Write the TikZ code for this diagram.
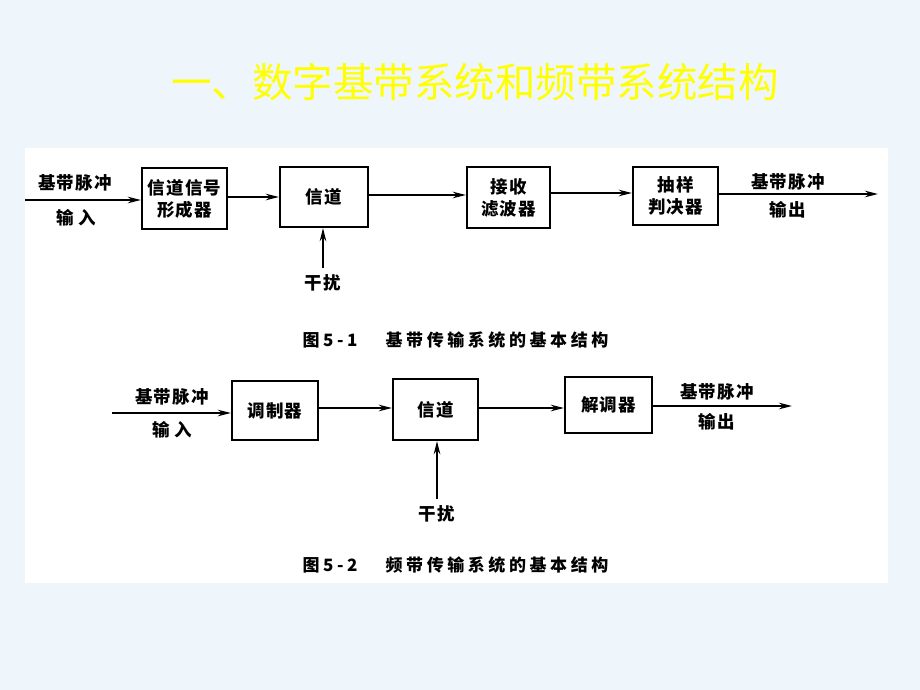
\documentclass[tikz,border=0pt]{standalone}
\usepackage{fontspec}
\newfontfamily\cjk{Noto Sans CJK SC}
\usetikzlibrary{arrows.meta}
\definecolor{slidebg}{RGB}{238,246,252}
\definecolor{titleyellow}{RGB}{255,255,0}
\tikzset{
  blk/.style={draw=black, line width=2.3pt, rectangle, inner sep=0pt, align=center,
    font=\cjk\bfseries\fontsize{17.5}{22}\selectfont\addfontfeature{LetterSpace=6}},
  lbl/.style={inner sep=0pt, align=center,
    font=\cjk\bfseries\fontsize{17.5}{20}\selectfont\addfontfeature{LetterSpace=6}},
  captxt/.style={inner sep=0pt, font=\cjk\bfseries\fontsize{17}{20}\selectfont\addfontfeature{LetterSpace=21}},
  arr/.style={line width=2pt, -{Stealth[length=13pt,width=6.5pt]}}
}
\begin{document}
\begin{tikzpicture}[x=1pt,y=-1pt]
\useasboundingbox (0,0) rectangle (920,690);
\fill[slidebg] (0,0) rectangle (920,690);
\fill[white] (25,148) rectangle (888,583);
% title
\node[inner sep=0pt, text=titleyellow, font=\cjk\fontsize{40.5}{44}\selectfont] (title) at (475,82) {一、数字基带系统和频带系统结构};

% ---------- diagram 1 ----------
\node[blk, minimum width=85pt, minimum height=61pt] (b1) at (184.5,198.5) {信道信号\\形成器};
\node[blk, minimum width=88pt, minimum height=60pt] (b2) at (324,197) {信道};
\node[blk, minimum width=83pt, minimum height=61pt] (b3) at (508.5,197.5) {接收\\滤波器};
\node[blk, minimum width=85pt, minimum height=58pt] (b4) at (675.5,196) {抽样\\判决器};
\coordinate (in1) at (25,200);
\coordinate (out1) at (878,194);
\node[lbl] (in1a) at (75,183) {基带脉冲};
\node[lbl] (in1b) at (76,218) {输\hspace{5pt}入};
\node[lbl] (out1a) at (788,182) {基带脉冲};
\node[lbl] (out1b) at (788,210) {输出};
\node[lbl] (g1) at (323,283) {干扰};
\draw[arr] (in1) -- (in1 -| b1.west);
\draw[arr] (b1.east |- 0,197) -- (b2.west |- 0,197);
\draw[arr] (b2.east |- 0,195) -- (b3.west |- 0,195);
\draw[arr] (b3.east |- 0,193) -- (b4.west |- 0,193);
\draw[arr] (b4.east |- out1) -- (out1);
\draw[arr] ([yshift=6pt]g1.north) -- (g1.north |- b2.south);
\node[captxt] (c1a) at (330,340) {图5-1};
\node[captxt] (c1b) at (497,340) {基带传输系统的基本结构};

% ---------- diagram 2 ----------
\node[blk, minimum width=86pt, minimum height=59pt] (m1) at (275,410.5) {调制器};
\node[blk, minimum width=85pt, minimum height=61pt] (m2) at (435.5,409.5) {信道};
\node[blk, minimum width=87pt, minimum height=56pt] (m3) at (608.5,405) {解调器};
\coordinate (in2) at (112,413);
\coordinate (out2) at (792,406);
\node[lbl] (in2a) at (172,397) {基带脉冲};
\node[lbl] (in2b) at (172,430) {输\hspace{5pt}入};
\node[lbl] (out2a) at (717,392) {基带脉冲};
\node[lbl] (out2b) at (717,422) {输出};
\node[lbl] (g2) at (437,514) {干扰};
\draw[arr] (in2) -- (in2 -| m1.west);
\draw[arr] (m1.east |- 0,408) -- (m2.west |- 0,408);
\draw[arr] (m2.east |- 0,408) -- (m3.west |- 0,408);
\draw[arr] (m3.east |- out2) -- (out2);
\draw[arr] ([yshift=6pt]g2.north) -- (g2.north |- m2.south);
\node[captxt] (c2a) at (330,565) {图5-2};
\node[captxt] (c2b) at (497,565) {频带传输系统的基本结构};
\end{tikzpicture}
\end{document}
